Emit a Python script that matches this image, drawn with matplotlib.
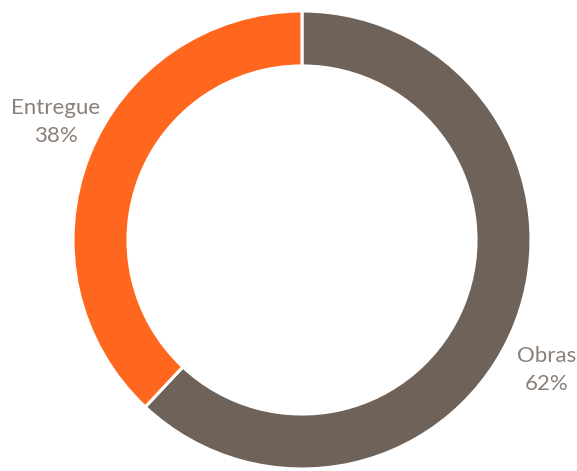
import matplotlib.pyplot as plt

labels = ['Obras', 'Entregue']
values = [62, 38]
colors = ['#6E6259', '#FF671F']

fig = plt.figure(figsize=(5.77, 4.71), dpi=100)
ax = fig.add_axes([0, 0, 1, 1])
ax.set_xlim(0, 577)
ax.set_ylim(0, 471)
ax.axis('off')

ax.pie(values, colors=colors, startangle=90, counterclock=False,
       center=(302, 231), radius=229,
       wedgeprops=dict(width=229 * 0.24, edgecolor='white', linewidth=2.2))
ax.set_xlim(0, 577)
ax.set_ylim(0, 471)
ax.set_aspect('auto')

txt = dict(ha='center', va='center', color='#8B8078', fontsize=16, family='Lato', linespacing=1.5)
ax.text(56, 471 - 122, '{}\n{}%'.format(labels[1], values[1]), **txt)
ax.text(547, 471 - 370, '{}\n{}%'.format(labels[0], values[0]), **txt)

fig.savefig('out.png', dpi=100)
